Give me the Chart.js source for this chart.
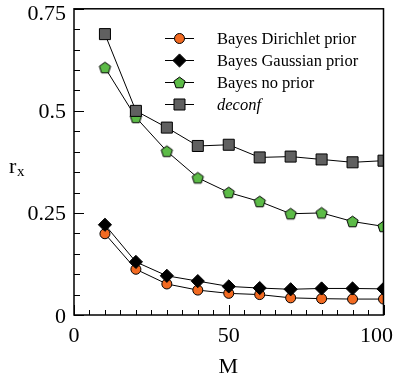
<!DOCTYPE html>
<html>
<head>
<meta charset="utf-8">
<script src="https://cdn.jsdelivr.net/npm/chart.js@4.4.1/dist/chart.umd.min.js"></script>
<style>
  html, body { margin: 0; padding: 0; background: #fff; }
</style>
</head>
<body>
<canvas id="chart" width="393" height="381"></canvas>
<script>
// values
const mValues = [10, 20, 30, 40, 50, 60, 70, 80, 90, 100];
const dirichletPrior = [0.199, 0.112, 0.076, 0.061, 0.053, 0.050, 0.042, 0.040, 0.039, 0.039];
const gaussianPrior = [0.221, 0.130, 0.096, 0.083, 0.070, 0.066, 0.063, 0.065, 0.065, 0.064];
const noPrior = [0.606, 0.484, 0.401, 0.336, 0.300, 0.278, 0.248, 0.250, 0.229, 0.217];
const deconf = [0.688, 0.500, 0.459, 0.414, 0.417, 0.386, 0.388, 0.381, 0.374, 0.378];

const seriesNames = ['Bayes Dirichlet prior', 'Bayes Gaussian prior', 'Bayes no prior', 'deconf'];
const xTickLabels = [0, 50, 100];
const yTickLabels = [0, 0.25, 0.5, 0.75];

const serif = '"Liberation Serif", "DejaVu Serif", serif';

// pentagon marker as an image, chart.js has no pentagon style
function makePentagon(color) {
  const c = document.createElement('canvas');
  c.width = 15; c.height = 15;
  const g = c.getContext('2d');
  const R = 5.9, cx = 7.5, cy = 8;
  g.beginPath();
  for (let i = 0; i < 5; i++) {
    const a = -Math.PI / 2 + i * 2 * Math.PI / 5;
    const px = cx + R * Math.cos(a), py = cy + R * Math.sin(a);
    if (i === 0) g.moveTo(px, py); else g.lineTo(px, py);
  }
  g.closePath();
  g.fillStyle = color;
  g.fill();
  g.lineWidth = 1;
  g.strokeStyle = '#000';
  g.stroke();
  return c;
}
const pentagon = makePentagon('#5cbb47');

function series(name, values, style, radius, fill) {
  return {
    label: name,
    data: mValues.map((m, i) => ({ x: m, y: values[i] })),
    borderColor: '#000',
    borderWidth: 1,
    pointStyle: style,
    pointRadius: radius,
    pointBackgroundColor: fill,
    pointBorderColor: '#000',
    pointBorderWidth: 1,
    fill: false,
    tension: 0
  };
}

const datasets = [
  series(seriesNames[3], deconf, 'rect', 7.8, '#606060'),
  series(seriesNames[2], noPrior, pentagon, 6, '#5cbb47'),
  series(seriesNames[1], gaussianPrior, 'rectRot', 6.6, '#000'),
  series(seriesNames[0], dirichletPrior, 'circle', 5, '#f26a21')
];

// frame, inward ticks, tick labels, axis titles and legend
const axesPlugin = {
  id: 'axesPlugin',
  afterDraw(chart) {
    const ctx = chart.ctx;
    const xs = chart.scales.x, ys = chart.scales.y;
    const a = chart.chartArea;
    ctx.save();
    ctx.strokeStyle = '#000';
    ctx.lineWidth = 1.5;
    ctx.strokeRect(a.left, a.top, a.right - a.left, a.bottom - a.top);

    ctx.lineWidth = 1;
    ctx.beginPath();
    for (let v = 0; v <= 100; v += 5) {
      const px = Math.round(xs.getPixelForValue(v)) + 0.5;
      const len = xTickLabels.includes(v) ? 10 : 5;
      ctx.moveTo(px, a.bottom);
      ctx.lineTo(px, a.bottom - len);
    }
    for (let k = 0; k <= 15; k++) {
      const v = k * 0.05;
      const py = Math.round(ys.getPixelForValue(v)) + 0.5;
      const len = (k % 5 === 0) ? 10 : 6;
      ctx.moveTo(a.left, py);
      ctx.lineTo(a.left + len, py);
    }
    ctx.stroke();

    ctx.fillStyle = '#000';
    ctx.font = '22px ' + serif;
    ctx.textBaseline = 'alphabetic';
    ctx.textAlign = 'right';
    yTickLabels.forEach(v => {
      const py = ys.getPixelForValue(v);
      ctx.fillText(String(v), 66, Math.max(py + 7.5, 19.5));
    });
    ctx.textAlign = 'center';
    xTickLabels.forEach(v => {
      const txt = String(v);
      const w = ctx.measureText(txt).width;
      const px = Math.min(xs.getPixelForValue(v), chart.width - w / 2);
      ctx.fillText(txt, px, 342);
    });

    // axis titles
    ctx.fillText('M', (a.left + a.right) / 2 - 0.5, 373);
    ctx.textAlign = 'left';
    ctx.fillText('r', 9, 173);
    ctx.font = '15px ' + serif;
    ctx.fillText('x', 17, 176);

    // legend, top to bottom
    const order = [3, 2, 1, 0];
    order.forEach((di, row) => {
      const ds = datasets[di];
      const y = 38.5 + row * 22;
      ctx.strokeStyle = '#000';
      ctx.lineWidth = 1;
      ctx.beginPath();
      ctx.moveTo(165, y);
      ctx.lineTo(194, y);
      ctx.stroke();
      ctx.fillStyle = ds.pointBackgroundColor;
      ctx.strokeStyle = '#000';
      Chart.helpers.drawPoint(ctx, {
        pointStyle: ds.pointStyle,
        radius: ds.pointRadius,
        rotation: 0,
        borderWidth: 1
      }, 179.5, y);
      ctx.fillStyle = '#000';
      ctx.font = (ds.label === 'deconf' ? 'italic ' : '') + '16.5px ' + serif;
      ctx.textAlign = 'left';
      ctx.textBaseline = 'middle';
      ctx.fillText(ds.label, 217, y + 1);
    });
    ctx.restore();
  }
};

new Chart(document.getElementById('chart'), {
  type: 'line',
  data: { datasets: datasets },
  options: {
    responsive: false,
    animation: false,
    devicePixelRatio: 1,
    layout: { padding: { left: 74, right: 9.5, top: 4.5, bottom: 66 } },
    scales: {
      x: { type: 'linear', min: 0, max: 100, display: false },
      y: { type: 'linear', min: 0, max: 0.75, display: false }
    },
    plugins: {
      legend: { display: false },
      tooltip: { enabled: false }
    }
  },
  plugins: [axesPlugin]
});
</script>
</body>
</html>
